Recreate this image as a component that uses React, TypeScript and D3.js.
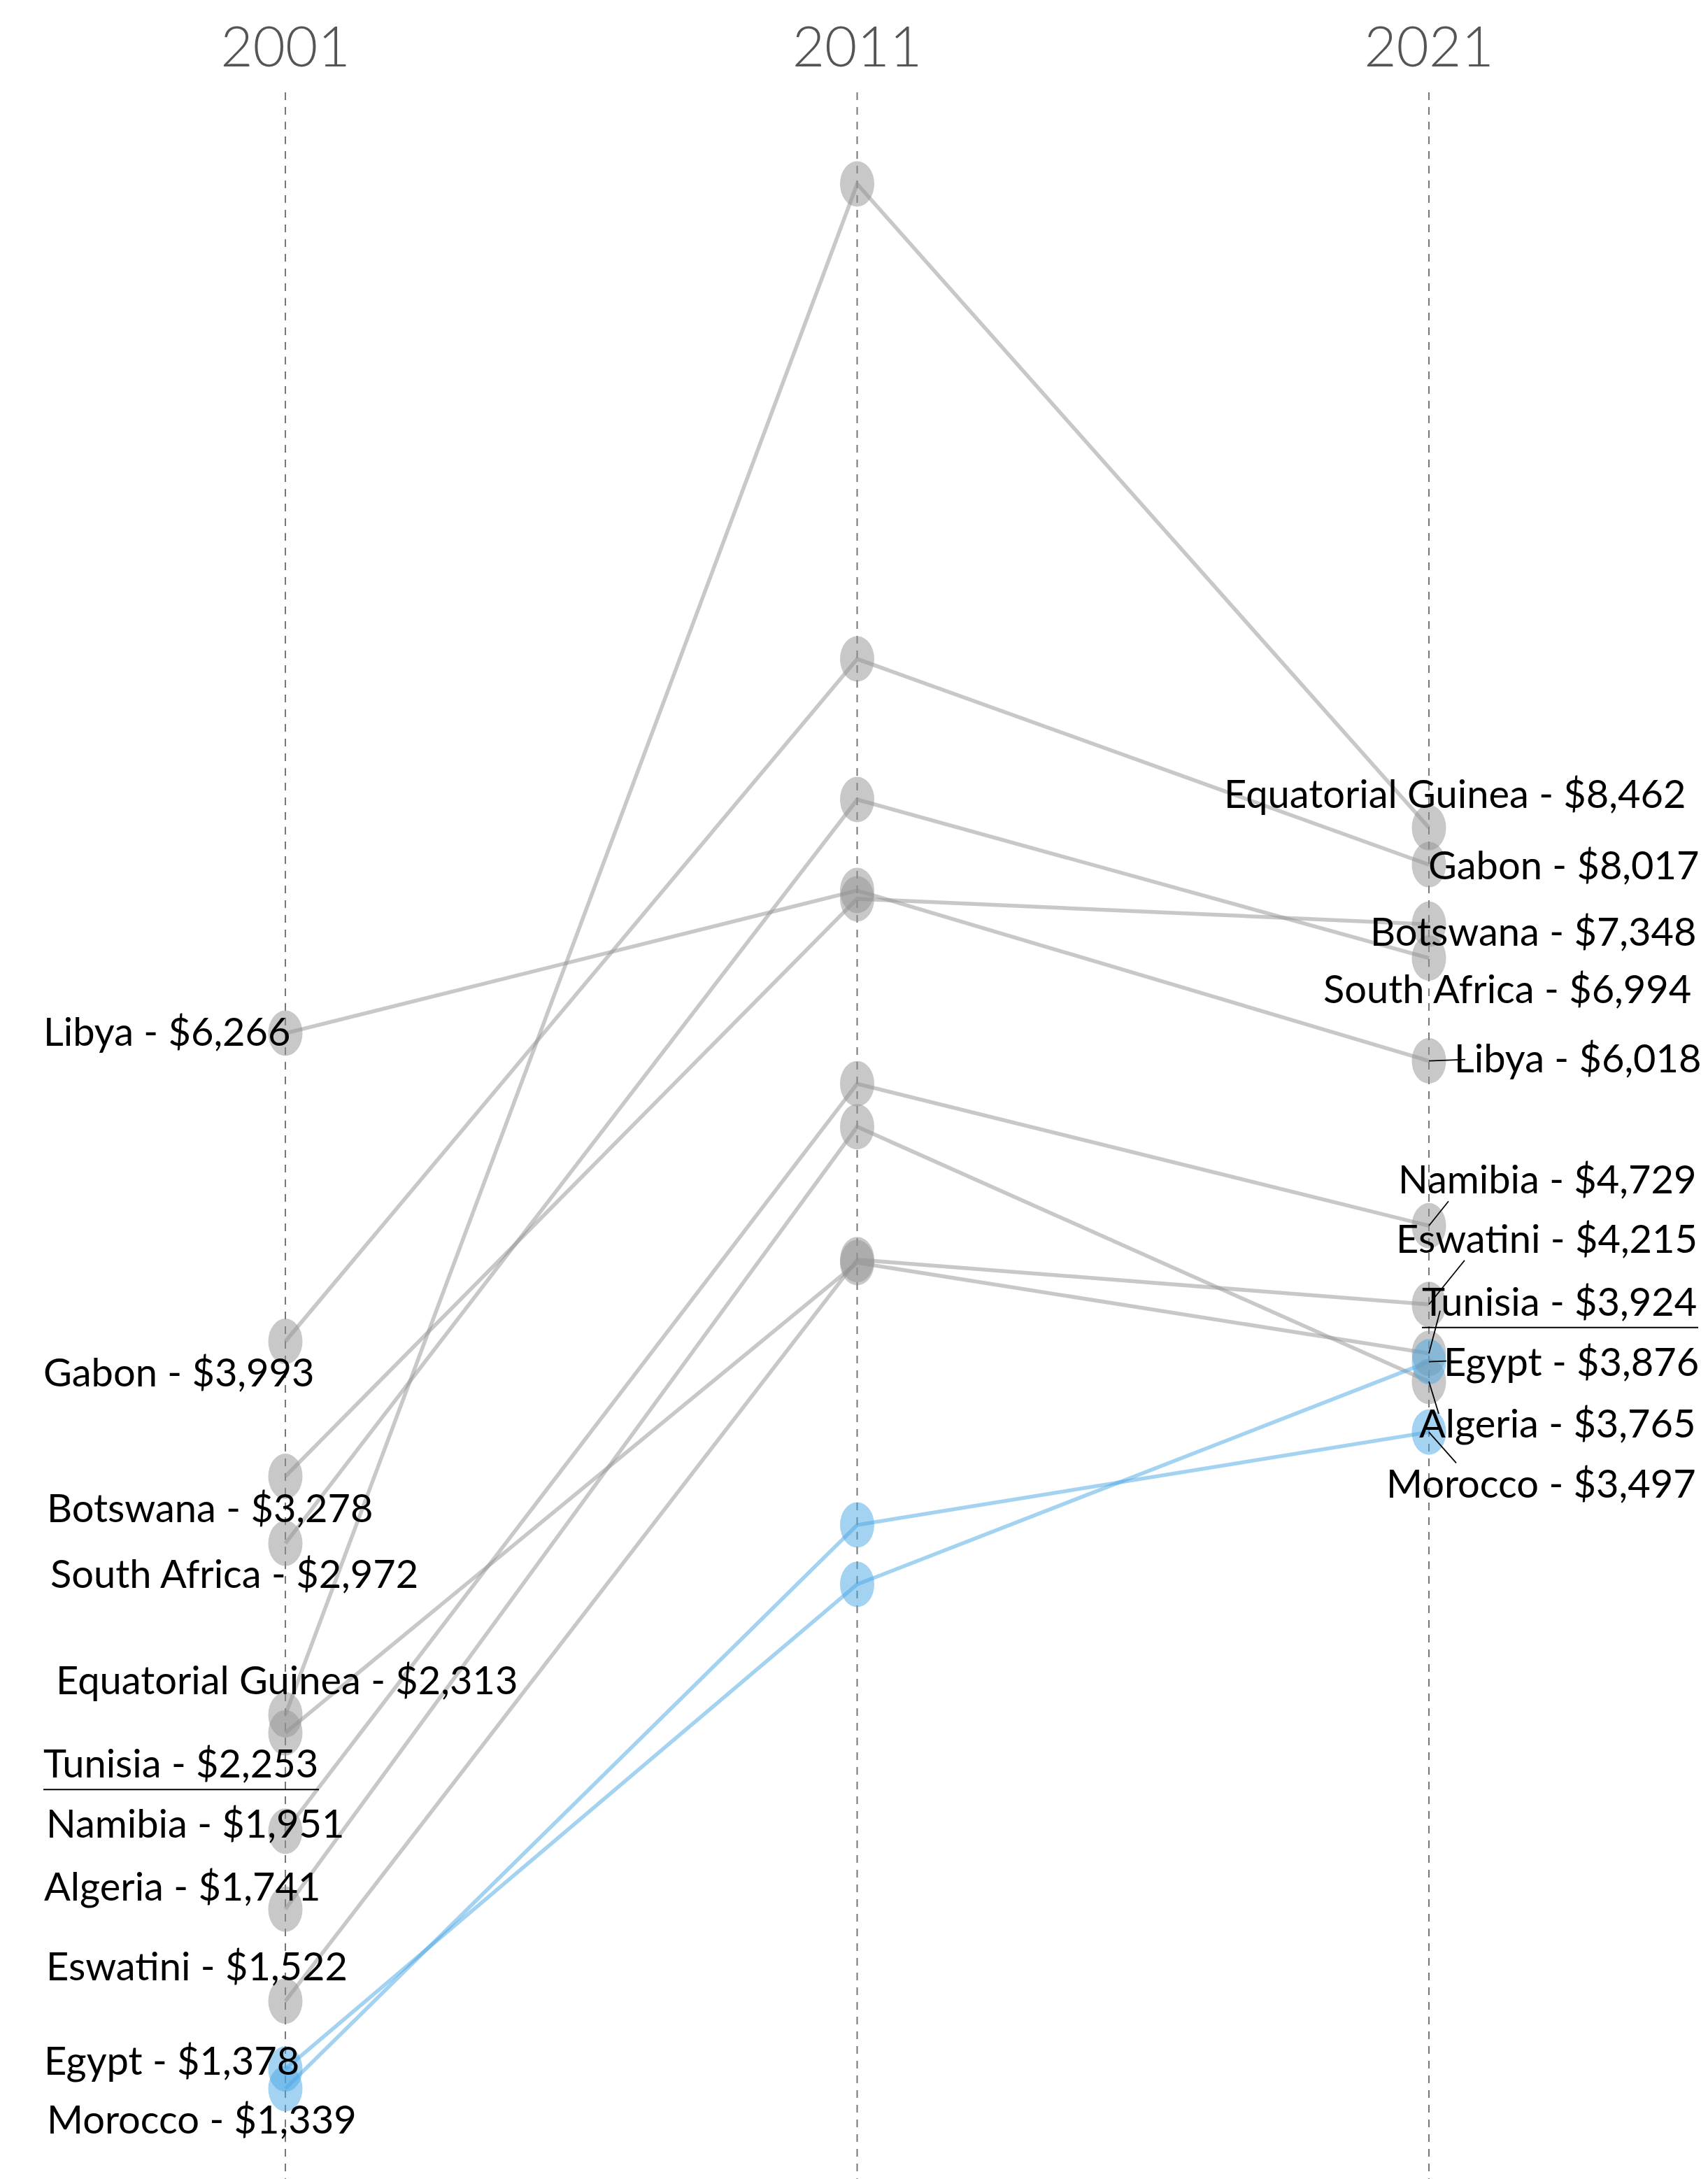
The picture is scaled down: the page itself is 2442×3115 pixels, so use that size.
import * as d3 from 'd3';

const WIDTH = 2442;
const HEIGHT = 3115;
const GRAY = '#919191';
const BLUE = '#4aa8e6';

const years = ['2001', '2011', '2021'];
const countries = [
  'Libya', 'Gabon', 'Botswana', 'South Africa', 'Equatorial Guinea', 'Tunisia',
  'Namibia', 'Algeria', 'Eswatini', 'Egypt', 'Morocco',
];
const gdp2001 = [6266, 3993, 3278, 2972, 2313, 2253, 1951, 1741, 1522, 1378, 1339];
// 2011 has no labels in the chart
const gdp2011 = [7720, 10830, 7627, 8818, 21690, 4480, 5820, 5465, 4500, 2799, 3053];
const gdp2021 = [6018, 8017, 7348, 6994, 8462, 3924, 4729, 3765, 4215, 3876, 3497];
const highlighted = ['Egypt', 'Morocco'];

// label placement relative to the dot (dx, baseline dy), leader end, underline
interface LabelPos { dx: number; dy: number; lx?: number; ly?: number; under?: number }

const leftLabels: LabelPos[] = [
  { dx: -346, dy: 18 },
  { dx: -346, dy: 64 },
  { dx: -341, dy: 65 },
  { dx: -336, dy: 64 },
  { dx: -328, dy: -29 },
  { dx: -346, dy: 64, under: 394 },
  { dx: -342, dy: 9 },
  { dx: -345, dy: -12 },
  { dx: -342, dy: -30 },
  { dx: -345, dy: 8 },
  { dx: -341, dy: 64 },
];

const rightLabels: LabelPos[] = [
  { dx: 36, dy: 16, lx: 52, ly: -2 },
  { dx: -1, dy: 21 },
  { dx: -84, dy: 31 },
  { dx: -151, dy: 64 },
  { dx: -293, dy: -28 },
  { dx: -10, dy: -54, lx: 16, ly: -61, under: 395 },
  { dx: -44, dy: -46, lx: 28, ly: -35 },
  { dx: -14, dy: 80, lx: 14, ly: 46 },
  { dx: -47, dy: -74, lx: 51, ly: -63 },
  { dx: 21, dy: 20, lx: 25, ly: -1 },
  { dx: -61, dy: 94, lx: 39, ly: 44 },
];

const fmt = d3.format(',');

export default function App() {
  const x = d3.scalePoint<string>().domain(years).range([408, 2043]);
  const y = d3.scaleLog().domain([1000, 30000]).range([3271.3, -54.1]);

  const rows = countries.map((name, i) => ({
    name,
    values: [gdp2001[i], gdp2011[i], gdp2021[i]],
    color: highlighted.includes(name) ? BLUE : GRAY,
  }));

  const line = d3
    .line<number>()
    .x((_, i) => x(years[i]) ?? 0)
    .y((v) => y(v));

  const labelSets = [
    { col: 0, layout: leftLabels },
    { col: 2, layout: rightLabels },
  ];

  return (
    <div style={{ position: 'absolute', left: 0, top: 0 }}>
      <svg width={WIDTH} height={HEIGHT} style={{ display: 'block', background: '#fff' }}>
        {years.map((yr) => (
          <g key={yr}>
            <text
              x={x(yr)}
              y={95}
              textAnchor="middle"
              fontFamily="Lato"
              fontWeight={300}
              fontSize={80}
              fill="#555"
            >
              {yr}
            </text>
            <line
              x1={x(yr)}
              x2={x(yr)}
              y1={132}
              y2={HEIGHT}
              stroke="#777"
              strokeWidth={2}
              strokeDasharray="11 10"
            />
          </g>
        ))}

        {rows.map((r) => (
          <path
            key={r.name}
            d={line(r.values) ?? ''}
            fill="none"
            stroke={r.color}
            strokeOpacity={0.5}
            strokeWidth={5.5}
          />
        ))}

        {rows.map((r) =>
          r.values.map((v, i) => (
            <ellipse
              key={r.name + i}
              cx={x(years[i])}
              cy={y(v)}
              rx={24.5}
              ry={32.5}
              fill={r.color}
              fillOpacity={0.5}
            />
          ))
        )}

        {labelSets.map(({ col, layout }) =>
          rows.map((r, i) => {
            const cx = x(years[col]) ?? 0;
            const cy = y(r.values[col]);
            const p = layout[i];
            const tx = cx + p.dx;
            const ty = cy + p.dy;
            return (
              <g key={r.name + col}>
                {p.lx !== undefined && (
                  <line x1={cx} y1={cy} x2={cx + p.lx} y2={cy + (p.ly ?? 0)} stroke="#000" strokeWidth={1.8} />
                )}
                {p.under !== undefined && (
                  <line x1={tx} x2={tx + p.under} y1={ty + 17} y2={ty + 17} stroke="#000" strokeWidth={2} />
                )}
                <text x={tx} y={ty} fontFamily="Lato" fontSize={56} fill="#000">
                  {`${r.name} - $${fmt(r.values[col])}`}
                </text>
              </g>
            );
          })
        )}
      </svg>
    </div>
  );
}
